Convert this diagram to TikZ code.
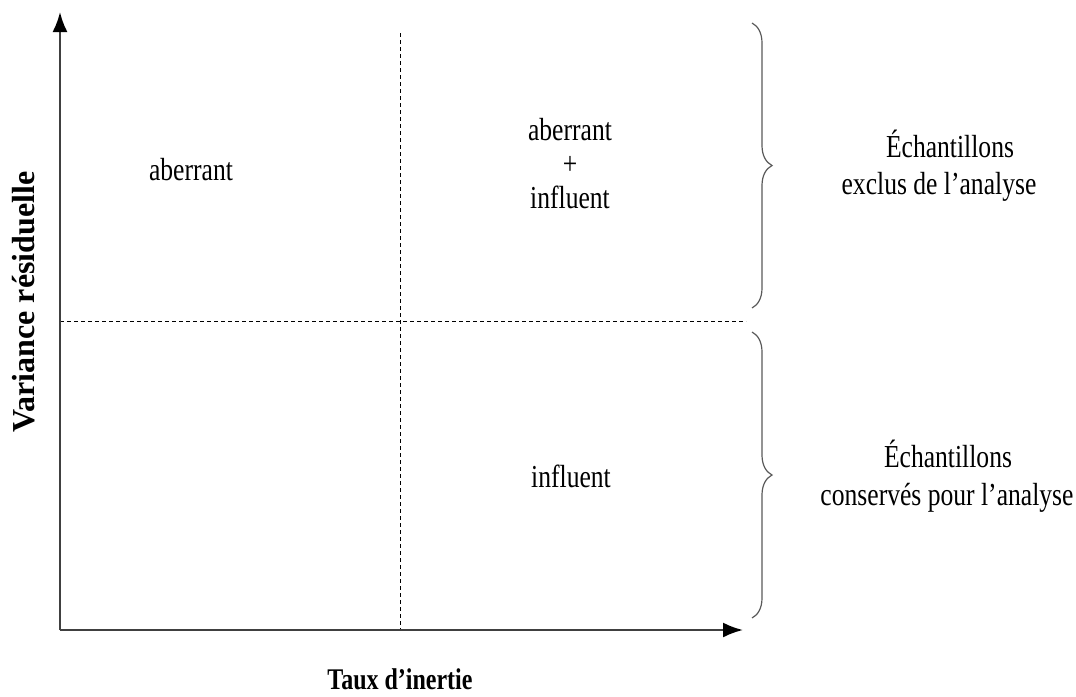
\documentclass[tikz,border=0pt]{standalone}
\usepackage{fontspec}
\setmainfont{Liberation Serif}
\newfontfamily\condfont[FakeStretch=0.8]{Liberation Serif}
\usetikzlibrary{arrows.meta,decorations.pathreplacing}
\begin{document}
\begin{tikzpicture}[x=1pt,y=-1pt,
  axis/.style={line width=2.2pt,draw=black!75,-{Latex[length=20pt,width=15pt,black]}},
  divider/.style={line width=0.8pt,dash pattern=on 4pt off 3pt},
  bracestyle/.style={line width=1.2pt,draw=black!65,decorate,decoration={brace,amplitude=20pt}},
  lbl/.style={font=\condfont\fontsize{32}{36}\selectfont,inner sep=0pt,align=center},
  axlbl/.style={font=\condfont\fontsize{30}{34}\selectfont\bfseries,inner sep=0pt},
  vaxlbl/.style={font=\fontsize{32}{34}\selectfont\bfseries,inner sep=0pt}]
\useasboundingbox (0,0) rectangle (1076,696);
\coordinate (O) at (60,630);
\coordinate (ytip) at (60,12);
\coordinate (xtip) at (743,630);
\coordinate (vtop) at (400,33);
\coordinate (vbot) at (400,630);
\coordinate (hl) at (60,321);
\coordinate (hr) at (746,321);
\coordinate (b1t) at (752,23);
\coordinate (b1b) at (752,308);
\coordinate (b2t) at (752,332);
\coordinate (b2b) at (752,618);
\draw[divider] (vtop) -- (vbot);
\draw[divider] (hl) -- (hr);
\draw[axis] (O) -- (ytip);
\draw[axis] (O) -- (xtip);
\draw[bracestyle] (b1t) -- (b1b);
\draw[bracestyle] (b2t) -- (b2b);
\node[lbl,anchor=base] (ab) at (191,180) {aberrant};
\node[lbl,anchor=base] (ab2) at (570,140) {aberrant};
\node[lbl,anchor=base] (plus) at (570,174) {+};
\node[lbl,anchor=base] (inf2) at (570,208) {influent};
\node[lbl,anchor=base] (inf) at (571,487) {influent};
\node[lbl,anchor=base] (e1) at (950,157) {Échantillons};
\node[lbl,anchor=base] (e1b) at (939,194) {exclus de l’analyse};
\node[lbl,anchor=base] (e2) at (948,467) {Échantillons};
\node[lbl,anchor=base] (e2b) at (947,505) {conservés pour l’analyse};
\node[axlbl,anchor=base] (xl) at (400,689) {Taux d’inertie};
\node[vaxlbl,rotate=90,anchor=base] (yl) at (34,302) {Variance résiduelle};
\end{tikzpicture}
\end{document}
